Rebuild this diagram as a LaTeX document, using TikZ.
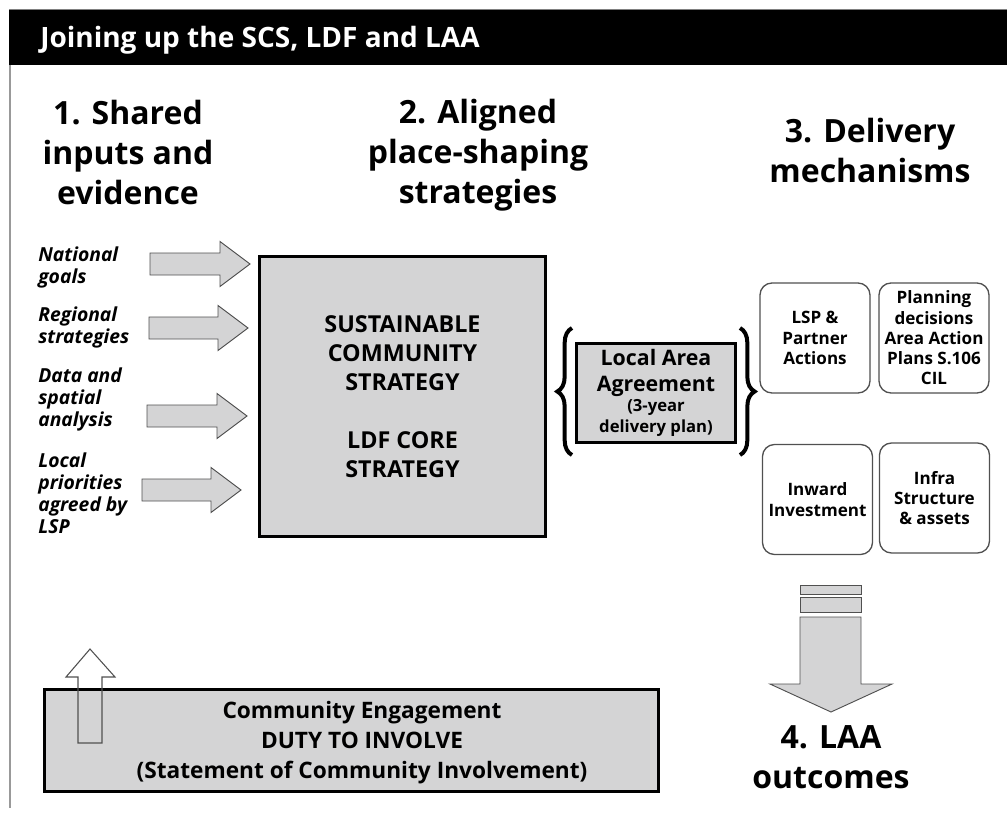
\documentclass[tikz,border=0pt]{standalone}
\usepackage{fontspec}
\setmainfont{Open Sans}
\usetikzlibrary{decorations.pathreplacing}

\definecolor{boxgray}{RGB}{212,212,213}
\definecolor{edgegray}{RGB}{80,80,80}

\tikzset{
  heading/.style={align=center, inner sep=0pt, font=\bfseries\fontsize{24}{30}\selectfont},
  inlabel/.style={anchor=north west, align=left, inner sep=0pt, font=\bfseries\itshape\fontsize{14.5}{16.5}\selectfont},
  mechbox/.style={draw=edgegray, line width=1pt, rounded corners=9pt, fill=white, minimum width=82.5pt, minimum height=82.5pt, align=center, inner sep=0pt, font=\bfseries\fontsize{12.8}{15.2}\selectfont},
  greybox/.style={draw=black, line width=2.2pt, fill=boxgray, align=center, inner sep=0pt},
  blockarrow/.style={draw=edgegray, line width=0.7pt, fill=boxgray},
  curly/.style={decorate, decoration={brace, amplitude=11pt}, line width=3pt}
}

\begin{document}
\begin{tikzpicture}[x=0.75pt, y=-0.75pt]
    \useasboundingbox (0,0) rectangle (1007,819);

    % title bar and frame
    \fill[black] (9,10) rectangle (1007,65);
    \draw[gray, line width=0.8pt] (9,9.5) -- (1007,9.5);
    \draw[gray!80, line width=2pt] (10,65) -- (10,808);
    \node[anchor=base west, text=white, inner sep=0pt, font=\bfseries\fontsize{21}{24}\selectfont] (title) at (40,47) {Joining up the SCS, LDF and LAA};

    % column headings
    \node[heading] (headShared) at (128,152) {1. Shared\\inputs and\\evidence};
    \node[heading] (headAligned) at (478,155) {2. Aligned\\place-shaping\\strategies};
    \node[heading] (headDelivery) at (870,150) {3. Delivery\\mechanisms};
    \node[heading] (headOutcomes) at (831,757) {4. LAA\\outcomes};

    % inputs
    \node[inlabel] (lblNational) at (38,247) {National\\goals};
    \node[inlabel] (lblRegional) at (38,307) {Regional\\strategies};
    \node[inlabel] (lblData) at (38,368) {Data and\\spatial\\analysis};
    \node[inlabel] (lblLocal) at (38,453) {Local\\priorities\\agreed by\\LSP};

    \foreach \yc/\xs/\xt in {264/150/250, 328/149/248, 416/147/247, 490/142/241}
        \draw[blockarrow] (\xs,{\yc-11}) -- ({\xt-30},{\yc-11}) -- ({\xt-30},{\yc-22.5}) -- (\xt,\yc)
            -- ({\xt-30},{\yc+22.5}) -- ({\xt-30},{\yc+11}) -- (\xs,{\yc+11}) -- cycle;

    % strategies
    \node[greybox, minimum width=214.5pt, minimum height=210pt, font=\bfseries\fontsize{17.5}{21.75}\selectfont] (scs) at (402.5,396.5)
        {SUSTAINABLE\\COMMUNITY\\STRATEGY\\[21.75pt]LDF CORE\\STRATEGY};

    \node[greybox, minimum width=119.25pt, minimum height=74.25pt, font=\bfseries\fontsize{16}{19.5}\selectfont] (laa) at (656,393)
        {Local Area\\Agreement\\[-4.5pt]\fontsize{12.5}{15}\selectfont(3-year\\[-3.75pt]\fontsize{12.5}{15}\selectfont delivery plan)};
    \draw[curly] (572,455) -- (572,328);
    \draw[curly] (740,328) -- (740,455);

    % delivery mechanisms
    \node[mechbox] (mechLSP) at (815,338) {LSP \&\\Partner\\Actions};
    \node[mechbox] (mechPlanning) at (934,338) {Planning\\decisions\\Area Action\\Plans S.106\\CIL};
    \node[mechbox] (mechInward) at (817.5,499.5) {Inward\\Investment};
    \node[mechbox] (mechInfra) at (934.5,498) {Infra\\Structure\\\& assets};

    % outcomes arrow
    \draw[blockarrow] (800,585) rectangle (861,594);
    \draw[blockarrow] (800,597) rectangle (861,612);
    \draw[blockarrow] (800,617) -- (861,617) -- (861,684) -- (892,684) -- (831,712) -- (770,684) -- (800,684) -- cycle;

    % engagement
    \node[greybox, minimum width=460.5pt, minimum height=76.5pt] (engage) at (351.5,740.5) {};
    \node[align=center, inner sep=0pt, font=\bfseries\fontsize{17}{22.5}\selectfont] (engageText) at (362,743)
        {Community Engagement\\DUTY TO INVOLVE\\(Statement of Community Involvement)};
    \draw[edgegray, line width=0.8pt] (78,743) -- (78,677) -- (66,677) -- (90,649) -- (115,677) -- (102,677) -- (102,743) -- cycle;
\end{tikzpicture}
\end{document}
